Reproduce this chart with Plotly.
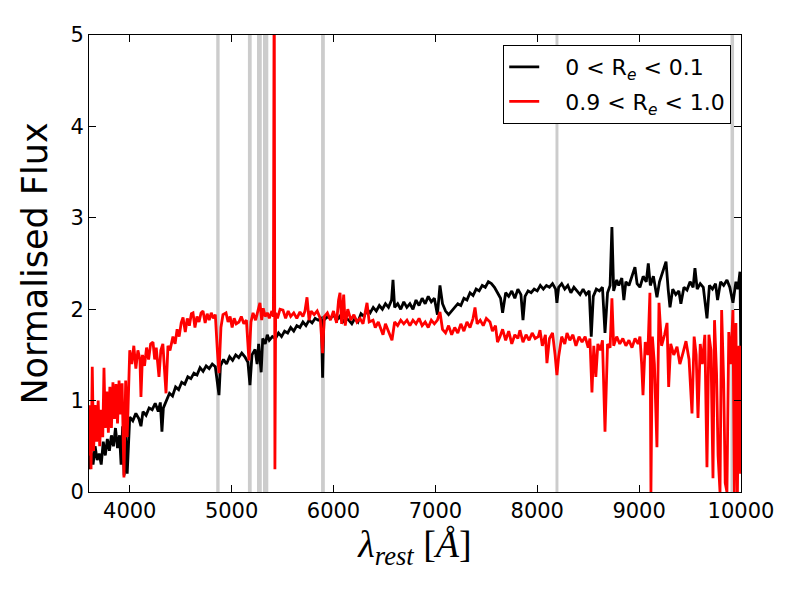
import plotly.graph_objects as go

# inner (0 < Re < 0.1) spectrum
black_wave = [
    3600, 3620, 3640, 3660, 3680, 3700, 3720, 3740, 3760, 3780, 3800, 3820, 3840, 3860, 3880,
    3900, 3915, 3930, 3945, 3960, 3975, 3990, 4000, 4030, 4060, 4090, 4110, 4130, 4160, 4190,
    4220, 4250, 4280, 4300, 4316, 4330, 4360, 4390, 4420, 4450, 4480, 4510, 4540, 4570, 4600,
    4630, 4660, 4690, 4720, 4750, 4780, 4810, 4840, 4865, 4876, 4890, 4920, 4950, 4980, 5010,
    5040, 5070, 5100, 5130, 5160, 5180, 5200, 5230, 5250, 5265, 5280, 5290, 5305, 5330, 5350,
    5370, 5400, 5430, 5460, 5490, 5520, 5550, 5580, 5610, 5640, 5670, 5700, 5730, 5760, 5790,
    5820, 5850, 5880, 5893, 5905, 5940, 5970, 6000, 6030, 6060, 6090, 6120, 6150, 6180, 6210,
    6240, 6270, 6300, 6330, 6360, 6390, 6420, 6450, 6480, 6510, 6540, 6570, 6584, 6600, 6630,
    6660, 6690, 6720, 6750, 6780, 6810, 6840, 6870, 6900, 6930, 6960, 6990, 7020, 7045, 7070,
    7100, 7130, 7160, 7190, 7220, 7250, 7280, 7310, 7340, 7370, 7400, 7430, 7460, 7490, 7520,
    7550, 7580, 7610, 7640, 7660, 7690, 7720, 7750, 7780, 7810, 7840, 7860, 7880, 7910, 7940,
    7970, 8000, 8030, 8060, 8090, 8120, 8150, 8180, 8193, 8210, 8240, 8270, 8300, 8330, 8360,
    8390, 8420, 8450, 8480, 8510, 8530, 8550, 8580, 8610, 8640, 8665, 8690, 8715, 8733, 8750,
    8780, 8800, 8830, 8850, 8870, 8900, 8930, 8959, 8980, 9008, 9040, 9070, 9090, 9110, 9140,
    9175, 9200, 9230, 9264, 9285, 9303, 9330, 9360, 9390, 9410, 9440, 9470, 9500, 9530, 9548,
    9570, 9600, 9630, 9666, 9690, 9720, 9750, 9770, 9800, 9830, 9862, 9890, 9921, 9950, 9970,
    9990, 10000,
]
black_flux = [
    0.25, 0.45, 0.30, 0.50, 0.35, 0.42, 0.30, 0.55, 0.40, 0.58, 0.45, 0.62, 0.50, 0.70, 0.48,
    0.62, 0.30, 0.72, 0.18, 0.60, 0.20, 0.55, 0.82, 0.78, 0.86, 0.80, 0.72, 0.88, 0.84, 0.92,
    0.90, 0.97, 0.88, 0.98, 0.66, 0.92, 1.00, 1.08, 1.05, 1.15, 1.12, 1.20, 1.18, 1.26, 1.24,
    1.30, 1.28, 1.36, 1.32, 1.38, 1.35, 1.40, 1.37, 1.10, 1.06, 1.38, 1.45, 1.40, 1.48, 1.44,
    1.50, 1.47, 1.52, 1.48, 1.42, 1.17, 1.50, 1.56, 1.40, 1.62, 1.45, 1.31, 1.68, 1.62, 1.72,
    1.66, 1.70, 1.68, 1.74, 1.70, 1.76, 1.74, 1.80, 1.76, 1.82, 1.80, 1.86, 1.82, 1.88, 1.85,
    1.90, 1.88, 1.90, 1.25, 1.88, 1.92, 1.90, 1.94, 1.88, 1.92, 1.86, 1.90, 1.88, 1.84, 1.90,
    1.86, 1.95, 1.92, 2.00, 1.96, 2.02, 1.98, 2.04, 2.00, 2.06, 2.02, 2.10, 2.32, 2.02, 2.06,
    2.00, 2.08, 2.02, 2.06, 2.00, 2.10, 2.04, 2.12, 2.06, 2.14, 2.08, 2.12, 1.94, 2.26, 2.06,
    1.98, 1.94, 1.98, 2.02, 2.06, 2.04, 2.12, 2.10, 2.18, 2.15, 2.22, 2.20, 2.26, 2.24, 2.30,
    2.28, 2.24, 2.18, 2.12, 1.96, 2.18, 2.14, 2.20, 2.12, 2.22, 2.16, 1.88, 2.14, 2.20, 2.18,
    2.22, 2.20, 2.26, 2.22, 2.26, 2.24, 2.28, 2.22, 2.07, 2.24, 2.28, 2.22, 2.26, 2.18, 2.24,
    2.20, 2.16, 2.22, 2.16, 2.20, 1.70, 2.14, 2.22, 2.20, 2.24, 1.74, 2.18, 2.26, 2.90, 2.20,
    2.32, 2.26, 2.34, 2.10, 2.30, 2.26, 2.36, 2.46, 2.28, 2.24, 2.36, 2.30, 2.50, 2.26, 2.36,
    2.13, 2.30, 2.40, 2.52, 2.22, 2.02, 2.22, 2.16, 2.20, 2.06, 2.24, 2.21, 2.30, 2.24, 2.45,
    2.22, 2.28, 2.24, 1.90, 2.26, 2.22, 2.28, 2.10, 2.30, 2.26, 2.32, 2.24, 2.07, 2.30, 2.22,
    2.41, 1.35,
]

# outer (0.9 < Re < 1.0) spectrum
red_wave = [
    3600, 3610, 3620, 3632, 3645, 3660, 3675, 3690, 3705, 3720, 3735, 3747, 3760, 3775, 3790,
    3805, 3820, 3835, 3850, 3865, 3880, 3895, 3910, 3925, 3943, 3960, 3975, 3990, 4000, 4020,
    4040, 4060, 4080, 4100, 4110, 4125, 4145, 4165, 4185, 4205, 4228, 4245, 4260, 4287, 4305,
    4325, 4340, 4356, 4375, 4395, 4424, 4445, 4465, 4485, 4505, 4523, 4545, 4565, 4585, 4605,
    4621, 4640, 4660, 4680, 4700, 4719, 4740, 4760, 4780, 4800, 4820, 4840, 4860, 4876, 4895,
    4915, 4945, 4965, 4985, 5005, 5025, 5045, 5072, 5095, 5120, 5145, 5170, 5190, 5210, 5235,
    5260, 5278, 5295, 5310, 5330, 5350, 5370, 5395, 5410, 5418, 5425, 5432, 5450, 5475, 5504,
    5530, 5555, 5580, 5610, 5640, 5671, 5700, 5720, 5740, 5760, 5780, 5810, 5840, 5870, 5893,
    5910, 5940, 5970, 6000, 6030, 6050, 6064, 6080, 6100, 6115, 6140, 6170, 6200, 6230, 6260,
    6290, 6329, 6350, 6388, 6410, 6440, 6470, 6486, 6510, 6540, 6574, 6600, 6630, 6660, 6690,
    6721, 6750, 6780, 6810, 6840, 6870, 6900, 6930, 6960, 6990, 7020, 7045, 7070, 7100, 7130,
    7160, 7190, 7220, 7250, 7280, 7310, 7340, 7370, 7389, 7410, 7440, 7470, 7500, 7536, 7560,
    7590, 7610, 7634, 7660, 7690, 7720, 7750, 7780, 7810, 7830, 7860, 7890, 7920, 7950, 7980,
    8010, 8027, 8050, 8080, 8095, 8120, 8150, 8175, 8193, 8210, 8240, 8270, 8292, 8320, 8350,
    8380, 8410, 8440, 8470, 8500, 8517, 8537, 8555, 8575, 8595, 8620, 8640, 8665, 8690, 8715,
    8733, 8750, 8780, 8810, 8840, 8870, 8900, 8930, 8960, 8990, 9008, 9025, 9038, 9060, 9085,
    9106, 9116, 9130, 9150, 9175, 9195, 9220, 9250, 9274, 9290, 9310, 9340, 9372, 9400, 9430,
    9460, 9490, 9519, 9540, 9560, 9578, 9600, 9620, 9645, 9666, 9685, 9705, 9725, 9740, 9760,
    9775, 9794, 9810, 9830, 9845, 9862, 9880, 9900, 9921, 9935, 9950, 9965, 9980, 9995, 10000,
]
red_flux = [
    0.40, 0.95, 0.25, 1.37, 0.45, 0.95, 0.55, 1.00, 0.50, 0.90, 0.60, 1.36, 0.70, 1.10, 0.65,
    1.15, 0.70, 1.20, 0.80, 1.18, 0.75, 1.22, 0.85, 1.19, 0.16, 1.22, 0.60, 1.20, 1.55, 1.40,
    1.60, 1.35, 1.55, 1.45, 1.04, 1.50, 1.38, 1.58, 1.45, 1.62, 1.64, 1.45, 1.58, 1.26, 1.55,
    1.62, 1.40, 1.08, 1.60, 1.55, 1.70, 1.62, 1.78, 1.70, 1.85, 1.91, 1.75, 1.90, 1.82, 1.95,
    1.96, 1.80, 1.92, 1.86, 1.96, 1.98, 1.85, 1.95, 1.88, 1.96, 1.90, 1.94, 1.55, 1.30, 1.80,
    1.94, 1.96, 1.86, 1.92, 1.80, 1.90, 1.84, 1.86, 1.92, 1.84, 1.88, 1.44, 1.86, 1.96, 1.88,
    1.99, 2.07, 1.88, 2.01, 1.92, 1.96, 1.90, 1.98, 1.92, 6.00, 0.25, 1.96, 1.90, 2.00, 1.99,
    1.90, 1.98, 1.92, 1.96, 1.90, 1.97, 1.92, 1.98, 2.13, 1.88, 1.98, 1.94, 1.98, 1.90, 1.52,
    1.92, 1.96, 1.88, 1.98, 1.85, 2.10, 2.18, 1.84, 2.16, 1.82, 2.00, 1.88, 1.94, 1.86, 1.90,
    1.84, 2.07, 1.86, 1.88, 1.80, 1.86, 1.78, 1.72, 1.84, 1.76, 1.66, 1.86, 1.82, 1.88, 1.84,
    1.88, 1.82, 1.88, 1.84, 1.90, 1.82, 1.86, 1.80, 1.88, 1.84, 1.88, 1.97, 1.78, 1.74, 1.82,
    1.72, 1.80, 1.74, 1.84, 1.76, 1.86, 1.80, 1.90, 2.02, 1.84, 1.88, 1.82, 1.90, 1.86, 1.76,
    1.82, 1.64, 1.70, 1.78, 1.66, 1.76, 1.62, 1.72, 1.68, 1.77, 1.64, 1.72, 1.66, 1.74, 1.68,
    1.70, 1.77, 1.60, 1.72, 1.41, 1.68, 1.74, 1.50, 1.28, 1.48, 1.70, 1.62, 1.74, 1.66, 1.72,
    1.60, 1.70, 1.64, 1.70, 1.58, 1.68, 1.09, 1.60, 1.26, 1.62, 1.55, 1.66, 0.66, 1.62, 1.58,
    2.12, 1.60, 1.70, 1.62, 1.68, 1.60, 1.66, 1.58, 1.68, 1.62, 1.70, 1.40, 1.06, 1.64, 1.50,
    2.18, 0.00, 1.70, 1.40, 0.49, 2.07, 1.60, 1.72, 1.85, 1.15, 1.62, 1.50, 1.59, 1.40, 1.52,
    1.65, 1.45, 0.86, 1.70, 1.50, 0.81, 1.62, 1.40, 1.72, 0.27, 1.72, 1.55, 0.15, 1.88, 1.30,
    0.40, 0.00, 1.99, 1.20, 0.10, 0.00, 1.75, 1.40, 1.99, 0.00, 1.85, 0.00, 1.60, 0.20, 1.60,
]

# masked line windows (Angstrom)
band_lo = [4849, 5160, 5249, 5308, 5878, 8179, 9897]
band_hi = [4882, 5197, 5296, 5360, 5915, 8208, 9932]

x_ticks = [4000, 5000, 6000, 7000, 8000, 9000, 10000]
x_ticklabels = ["4000", "5000", "6000", "7000", "8000", "9000", "10000"]
y_ticks = [0, 1, 2, 3, 4, 5]

NB = "\u00a0"

fig = go.Figure()
fig.add_trace(go.Scatter(x=black_wave, y=black_flux, mode="lines",
                         line=dict(color="black", width=2.8), legendgroup="a",
                         name=NB * 3 + "0 &lt; R<sub><i>e</i></sub> &lt; 0.1"))
fig.add_trace(go.Scatter(x=red_wave, y=red_flux, mode="lines",
                         line=dict(color="red", width=2.8), legendgroup="b",
                         name=NB * 3 + "0.9 &lt; R<sub><i>e</i></sub> &lt; 1.0"))

for lo, hi in zip(band_lo, band_hi):
    fig.add_shape(type="rect", xref="x", yref="paper", x0=lo, x1=hi, y0=0, y1=1,
                  fillcolor="#cccccc", line_width=0, layer="below")

axis_style = dict(showgrid=False, zeroline=False, showline=True, linecolor="black",
                  linewidth=1, mirror="ticks", ticks="inside", ticklen=7,
                  tickcolor="black", tickfont=dict(size=21, color="black"))

# the page body has an 8px margin, so the figure is trimmed by that much
fig.update_layout(
    width=792, height=584,
    margin=dict(l=81, r=59, t=27, b=100),
    plot_bgcolor="white", paper_bgcolor="white",
    font=dict(family="DejaVu Sans", color="black"),
    xaxis=dict(range=[3600, 10000], tickvals=x_ticks, ticktext=x_ticklabels,
               title=dict(text="<i>λ</i><sub><i>rest</i></sub> [<i>Å</i>]",
                          font=dict(family="Liberation Serif", size=38), standoff=8),
               **axis_style),
    yaxis=dict(range=[0, 5], tickvals=y_ticks,
               title=dict(text="Normalised Flux", font=dict(size=35), standoff=12),
               **axis_style),
    legend=dict(x=0.985, y=0.978, xanchor="right", yanchor="top",
                bgcolor="white", bordercolor="black", borderwidth=1,
                tracegroupgap=3, font=dict(size=22)),
)

fig.write_html("out.html")
